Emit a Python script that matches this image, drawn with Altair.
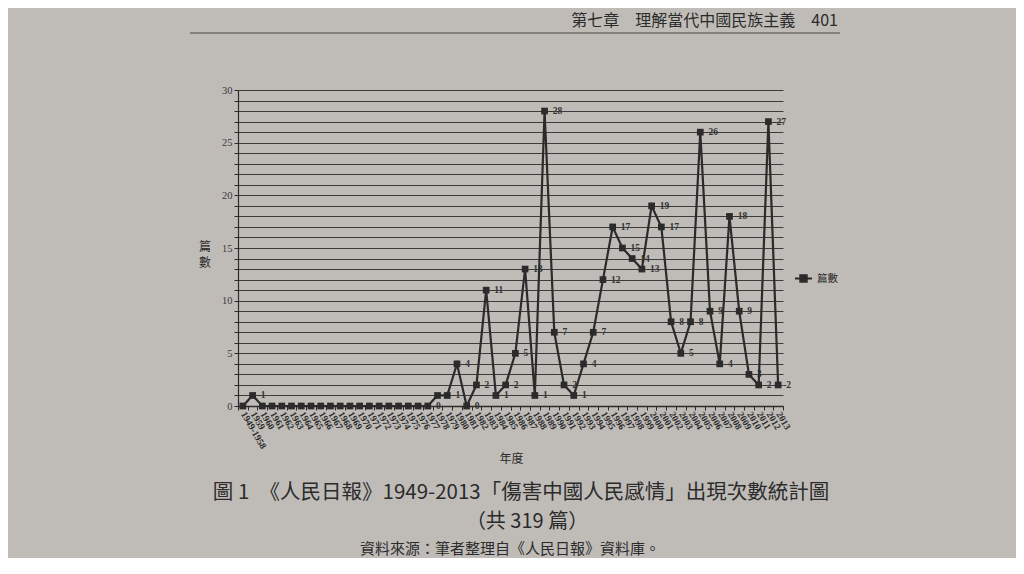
import altair as alt
import pandas as pd

# Categories (x axis)
years = ["1949-1958"] + [str(y) for y in range(1959, 2014)]

# Series values (篇數)
values = [0, 1] + [0] * 18 + [
    1, 1, 4, 0, 2, 11, 1, 2, 5, 13,      # 1978-1987
    1, 28, 7, 2, 1, 4, 7, 12, 17, 15,    # 1988-1997
    14, 13, 19, 17, 8, 5, 8, 26, 9, 4,   # 1998-2007
    18, 9, 3, 2, 27, 2                   # 2008-2013
]
series_name = "篇數"
zero_labels_shown = ["1977", "1981"]

y_ticks = list(range(0, 31))

header_text = "第七章　理解當代中國民族主義　401"
caption1 = "圖 1　《人民日報》1949-2013「傷害中國人民感情」出現次數統計圖"
caption2 = "（共 319 篇）"
caption3 = "資料來源：筆者整理自《人民日報》資料庫。"
y_title_chars = ["篇", "數"]

df = pd.DataFrame({"year": years, "value": values, "series": series_name})

INK = "#2b2b2b"
SERIF = "Liberation Serif"
CJK = "Noto Sans CJK TC"

x_enc = alt.X(
    "year:N",
    sort=years,
    bandPosition=0.5,
    scale=alt.Scale(type="band", paddingInner=0, paddingOuter=0),
    axis=alt.Axis(
        title="年度",
        titleFont=CJK,
        titleFontSize=12,
        titleFontWeight="normal",
        titleColor=INK,
        titleX=273,
        titleY=52,
        titleBaseline="middle",
        titleAlign="center",
        labelAngle=60,
        labelAlign="left",
        labelBaseline="middle",
        labelFont=SERIF,
        labelFontSize=9.5,
        labelFontWeight="bold",
        labelColor=INK,
        labelPadding=2,
        labelOverlap=False,
        tickBand="extent",
        tickColor=INK,
        tickSize=4,
        domainColor=INK,
        domainWidth=1.5,
        grid=False,
    ),
)

y_enc = alt.Y(
    "value:Q",
    scale=alt.Scale(domain=[0, 30], nice=False),
    axis=alt.Axis(
        values=y_ticks,
        labelExpr="datum.value % 5 == 0 ? datum.label : ''",
        title=None,
        labelFont=SERIF,
        labelFontSize=10.5,
        labelColor="#3a3a3a",
        tickColor=INK,
        tickSize=4,
        domainColor=INK,
        domainWidth=1.2,
        grid=True,
        gridColor="#3c3c3c",
        gridWidth=1.1,
        gridOpacity=1,
    ),
)

color_enc = alt.Color(
    "series:N",
    scale=alt.Scale(range=[INK]),
    legend=alt.Legend(
        title=None,
        orient="none",
        legendX=556,
        legendY=179,
        symbolType="M-1,0L1,0M-0.38,-0.38L0.38,-0.38L0.38,0.38L-0.38,0.38Z",
        symbolSize=289,
        symbolStrokeWidth=2,
        symbolFillColor=INK,
        symbolStrokeColor=INK,
        labelFont=CJK,
        labelFontSize=10.5,
        labelColor=INK,
    ),
)

base = alt.Chart(df)

labels = base.transform_filter(
    alt.FieldOneOfPredicate(field="year", oneOf=zero_labels_shown) | (alt.datum.value > 0)
).transform_calculate(
    lab="'-' + datum.value"
).mark_text(
    align="left", baseline="middle", dx=5, font=SERIF, fontSize=9.5, fontWeight="bold", color="#333333"
).encode(x=x_enc, y=y_enc, text="lab:N")

line = base.mark_line(strokeWidth=2.2).encode(x=x_enc, y=y_enc, color=color_enc)
points = base.mark_square(size=45, opacity=1, filled=True).encode(x=x_enc, y=y_enc, color=color_enc)

def txt(t, x, y, size, align="center", weight="normal", color=INK):
    return alt.Chart(pd.DataFrame({"t": [t]})).mark_text(
        align=align, baseline="middle", font=CJK, fontSize=size, fontWeight=weight, color=color
    ).encode(text="t:N", x=alt.value(x), y=alt.value(y))

ytitle1 = txt(y_title_chars[0], -33, 157, 12)
ytitle2 = txt(y_title_chars[1], -33, 173, 12)
header = txt(header_text, 600, -69, 16, align="right")
header_rule = alt.Chart(pd.DataFrame({"a": [0]})).mark_rule(color="#444444", strokeWidth=1.2).encode(
    x=alt.value(-48), x2=alt.value(602), y=alt.value(-57)
)
cap1 = txt(caption1, 283, 403, 20.5)
cap2 = txt(caption2, 289, 432, 20)
cap3 = txt(caption3, 272, 459, 15)

chart = alt.layer(
    labels, line, points, ytitle1, ytitle2, header_rule, header, cap1, cap2, cap3
).properties(
    width=545,
    height=316,
    autosize=alt.AutoSizeParams(type="none"),
    padding={"left": 230, "top": 82, "right": 233, "bottom": 152},
    background="#bfbcb8",
).configure_view(stroke=None)

chart.save("out.html", embed_options={"renderer": "svg", "actions": False})
